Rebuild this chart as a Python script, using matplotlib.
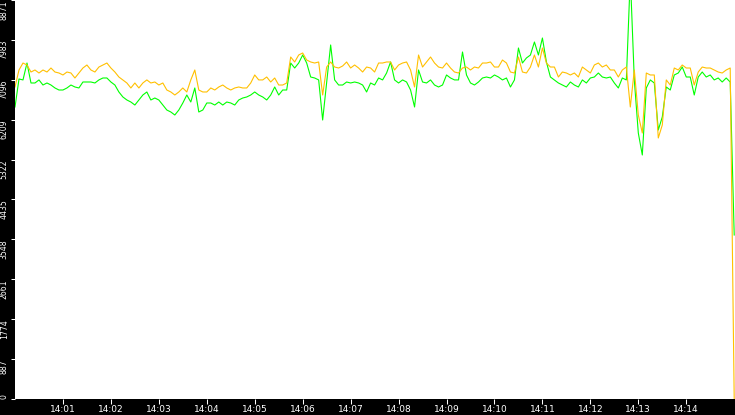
import numpy as np
import matplotlib
matplotlib.use("Agg")
import matplotlib.pyplot as plt

# samples every 5 s starting 14:00:00
step_s = 5

orange_vals = [
    6937, 7315, 7470, 7426, 7270, 7315, 7248, 7315, 7270, 7359, 7270, 7248, 7204, 7270, 7248, 7137,
    7248, 7359, 7426, 7315, 7270, 7381, 7426, 7470, 7359, 7270, 7159, 7094, 7026, 6915, 7026, 6915,
    7026, 7094, 7026, 7048, 6981, 7026, 6870, 6826, 6759, 6826, 6915, 6826, 7094, 7315, 6870, 6826,
    6826, 6915, 6870, 6937, 6981, 6915, 6870, 6915, 6937, 6915, 6915, 7026, 7204, 7094,
    7094, 7159, 7048, 7137, 6981, 6981, 7026, 7604, 7493, 7648, 7693, 7537, 7493, 7470, 7493, 6759,
    7381, 7493, 7381, 7359, 7404, 7493, 7359, 7426, 7359, 7270, 7381, 7359, 7270, 7470,
    7470, 7493, 7493, 7315, 7426, 7470, 7493, 7315, 6937, 7648, 7381, 7493, 7604, 7470, 7381, 7359,
    7470, 7359, 7270, 7248, 7359, 7381, 7315, 7381, 7359, 7470, 7470, 7493, 7381, 7381,
    7537, 7470, 7270, 7248, 7604, 7270, 7248, 7381, 7648, 7381, 7804, 7470, 7381, 7381, 7159, 7270,
    7248, 7204, 7248, 7159, 7381, 7315, 7248, 7426, 7470, 7381, 7426, 7315, 7315, 7159,
    7315, 7381, 6492, 7315, 6314, 5914, 7248, 7204, 7204, 5803, 6092, 7094, 6981, 7359, 7315, 7426,
    7359, 7359, 6981, 7270, 7381, 7359, 7359, 7315, 7270, 7248, 7315, 7359, 0,
]

green_vals = [
    6492, 7115, 7094, 7470, 7026, 7026, 7094, 6981, 7026, 6981, 6915, 6870, 6870, 6915, 6981, 6937,
    6915, 7048, 7048, 7048, 7026, 7094, 7137, 7137, 7048, 6981, 6826, 6715, 6648, 6603, 6536, 6648,
    6759, 6826, 6648, 6692, 6648, 6536, 6425, 6381, 6314, 6425, 6581, 6759, 6603, 6915, 6381, 6425,
    6581, 6581, 6536, 6603, 6536, 6603, 6581, 6536, 6648, 6692, 6715, 6759, 6826, 6759,
    6715, 6648, 6759, 6937, 6759, 6870, 6870, 7470, 7359, 7470, 7648, 7470, 7159, 7137, 7094, 6203,
    7026, 7871, 7094, 6981, 6981, 7048, 7026, 7048, 7026, 6981, 6826, 7026, 6981, 7137,
    7094, 7248, 7493, 7094, 7026, 7094, 7048, 6870, 6492, 7315, 7048, 7026, 7094, 6981, 6937, 6981,
    7204, 7137, 7094, 7094, 7715, 7204, 7026, 6981, 7048, 7137, 7159, 7137, 7204, 7159,
    7094, 7137, 6937, 7094, 7804, 7470, 7582, 7648, 7937, 7648, 8026, 7493, 7159, 7094, 7026, 6981,
    6937, 7048, 6981, 6937, 7094, 7026, 7137, 7159, 7248, 7159, 7137, 7159, 7026, 6915,
    7137, 7094, 9400, 7094, 5914, 5425, 6915, 7094, 7026, 5981, 6270, 6937, 6870, 7204, 7248, 7381,
    7159, 7159, 6759, 7159, 7270, 7159, 7204, 7094, 7137, 7048, 7137, 7048, 3646,
]

y_max = 8871
y_labels = ["0", "887", "1774", "2661", "3548", "4435", "5322", "6209", "7096", "7983", "8871"]
x_labels = ["14:01", "14:02", "14:03", "14:04", "14:05", "14:06", "14:07",
            "14:08", "14:09", "14:10", "14:11", "14:12", "14:13", "14:14"]

t = np.arange(len(orange_vals)) * step_s

fig = plt.figure(figsize=(7.35, 4.15), dpi=100, facecolor="black")
ax = fig.add_axes([15 / 735, 16 / 415, 720 / 735, 399 / 415])
ax.set_facecolor("white")

ax.plot(t, green_vals, color="#00FF00", lw=0.8)
ax.plot(t, orange_vals, color="#FFC000", lw=0.8)

ax.set_xlim(0, 901)
ax.set_ylim(0, y_max)

for s in ax.spines.values():
    s.set_visible(False)

ax.set_xticks([60 * (i + 1) for i in range(len(x_labels))])
ax.set_xticklabels(x_labels, fontsize=6.5, color="white")
ax.tick_params(axis="x", direction="out", length=3.6, width=0.75, color="white", pad=1)

ax.set_yticks([y_max * i / 10 for i in range(len(y_labels))])
ax.set_yticklabels(y_labels, rotation=90, va="top", ha="right",
                   fontsize=6.2, fontstretch="condensed", color="white")
ax.get_yticklabels()[0].set_va("bottom")
ax.tick_params(axis="y", direction="out", length=3, width=0.75, color="white", pad=1.5)

fig.savefig("out.png", dpi=100, facecolor="black")
